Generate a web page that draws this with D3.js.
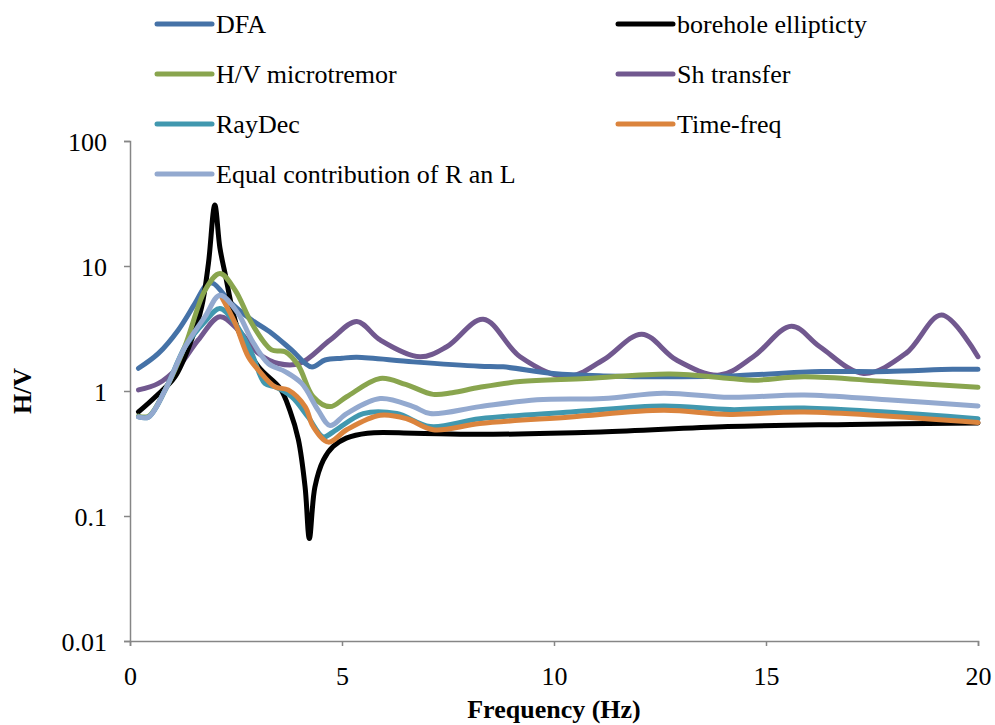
<!DOCTYPE html>
<html>
<head>
<meta charset="utf-8">
<script src="https://cdn.jsdelivr.net/npm/d3@7"></script>
<style>
  body { margin: 0; background: #fff; }
  svg text { font-family: "Liberation Serif", "Times New Roman", serif; fill: #000; }
</style>
</head>
<body>
<div class="grafico"></div>
<script>
// datos (frecuencia en Hz, H/V)
const dfaF = [0.2, 0.67, 1.14, 1.53, 1.81, 1.95, 2.4, 2.87, 3.34, 3.81, 4.28, 4.6, 5.0, 5.35, 6.68, 8.25, 8.8, 9.98, 11.16, 13.0, 14.15, 16.3, 17.85, 19.4, 20]
const dfaV = [1.52, 2.0, 3.08, 5.0, 7.1, 7.3, 5.0, 3.7, 2.9, 2.13, 1.56, 1.77, 1.83, 1.86, 1.71, 1.58, 1.56, 1.38, 1.32, 1.3, 1.32, 1.43, 1.43, 1.49, 1.49]

const boreF = [0.2, 0.6, 1.06, 1.45, 1.69, 1.85, 2.0, 2.12, 2.24, 2.55, 3.03, 3.54, 3.77, 3.97, 4.13, 4.23, 4.36, 4.56, 4.79, 5.1, 5.6, 6.7, 8.2, 11.1, 14.1, 17, 20]
const boreV = [0.68, 0.9, 1.3, 2.56, 4.7, 10.5, 30.7, 14, 8.8, 3.08, 1.56, 1.05, 0.70, 0.41, 0.17, 0.066, 0.17, 0.28, 0.36, 0.42, 0.46, 0.46, 0.45, 0.47, 0.52, 0.54, 0.555]

const hvF = [0.2, 0.44, 0.83, 1.3, 1.77, 2.12, 2.48, 2.87, 3.34, 3.66, 3.97, 4.32, 4.72, 5.11, 5.9, 6.5, 7.15, 7.6, 8.25, 9.2, 10.77, 12.74, 14.15, 14.7, 15.9, 17.85, 20]
const hvV = [0.63, 0.63, 1.02, 2.3, 6.4, 8.7, 6.4, 3.48, 2.13, 2.06, 1.6, 0.9, 0.75, 0.9, 1.26, 1.13, 0.94, 0.97, 1.07, 1.19, 1.26, 1.37, 1.26, 1.22, 1.30, 1.19, 1.07]

const shF = [0.2, 0.67, 1.14, 1.61, 2.12, 2.55, 3.03, 3.5, 4.0, 4.72, 5.35, 5.9, 6.84, 7.47, 8.33, 9.2, 10.3, 11.16, 12.07, 12.89, 13.9, 14.7, 15.6, 16.27, 17.3, 18.3, 19.14, 20]
const shV = [1.02, 1.15, 1.56, 2.56, 3.93, 3.08, 2.0, 1.66, 1.66, 2.56, 3.6, 2.56, 1.88, 2.26, 3.75, 1.88, 1.30, 1.77, 2.85, 1.77, 1.34, 1.88, 3.3, 2.26, 1.38, 2.0, 4.05, 1.88]

const rayF = [0.2, 0.44, 0.83, 1.3, 1.77, 2.12, 2.48, 2.87, 3.18, 3.42, 3.81, 4.2, 4.56, 4.79, 5.5, 6.29, 7.08, 8.25, 10.4, 12.58, 14.15, 15.9, 20]
const rayV = [0.62, 0.62, 1.02, 2.26, 3.6, 4.58, 3.48, 2.0, 1.15, 1.08, 0.90, 0.62, 0.43, 0.47, 0.66, 0.66, 0.52, 0.60, 0.68, 0.76, 0.71, 0.73, 0.60]

const tfF = [2.16, 2.48, 2.79, 3.03, 3.42, 3.73, 4.13, 4.32, 4.68, 5.11, 5.9, 6.53, 7.15, 8.25, 10.4, 12.58, 14.15, 15.9, 20]
const tfV = [5.68, 3.48, 1.88, 1.47, 1.08, 1.02, 0.75, 0.52, 0.39, 0.49, 0.64, 0.60, 0.49, 0.55, 0.62, 0.70, 0.65, 0.68, 0.56]

const eqF = [0.2, 0.44, 0.83, 1.3, 1.77, 2.12, 2.55, 2.87, 3.26, 3.66, 4.05, 4.44, 4.72, 5.11, 5.9, 6.68, 7.08, 8.25, 9.6, 11.16, 12.58, 14.15, 15.9, 17.85, 20]
const eqV = [0.62, 0.62, 1.02, 2.26, 3.93, 5.84, 4.17, 2.56, 1.66, 1.43, 1.15, 0.70, 0.53, 0.66, 0.87, 0.75, 0.66, 0.75, 0.85, 0.87, 0.96, 0.89, 0.93, 0.85, 0.76]

const ticksX = [0, 5, 10, 15, 20]
const ticksY = [0.01, 0.1, 1, 10, 100]

const series = [
    { name: 'DFA', f: dfaF, v: dfaV, color: '#4572a7' },
    { name: 'borehole ellipticty', f: boreF, v: boreV, color: '#000000' },
    { name: 'H/V microtremor', f: hvF, v: hvV, color: '#89a54e' },
    { name: 'Sh transfer', f: shF, v: shV, color: '#71588f' },
    { name: 'RayDec', f: rayF, v: rayV, color: '#4198af' },
    { name: 'Time-freq', f: tfF, v: tfV, color: '#db843d' },
    { name: 'Equal contribution of R an L', f: eqF, v: eqV, color: '#93a9cf' }
]
// orden de dibujo (el ultimo queda encima)
const ordenDibujo = [3, 0, 1, 2, 4, 5, 6]

const ancho = 995,
    alto = 725,
    izq = 130, der = 978, arriba = 141, abajo = 641;

const x = d3.scaleLinear().domain([0, 20]).range([izq, der]);
const y = d3.scaleLog().domain([0.01, 100]).range([abajo, arriba]);

const svg = d3.select('.grafico').append('svg')
    .attr('width', ancho)
    .attr('height', alto);

const gris = '#868686';

// eje Y
const ejeY = svg.append('g')
    .attr('transform', 'translate(' + izq + ',0)')
    .call(d3.axisLeft(y).tickValues(ticksY).tickSize(6).tickPadding(17)
        .tickFormat(d => d >= 1 ? d3.format('d')(d) : String(d)));
ejeY.select('.domain').attr('stroke', gris).attr('stroke-width', 1.5);
ejeY.selectAll('.tick line').attr('stroke', gris).attr('stroke-width', 1.5);
ejeY.selectAll('.tick text').style('font-size', '26px').attr('dy', '0.35em');

// eje X
const ejeX = svg.append('g')
    .attr('transform', 'translate(0,' + abajo + ')')
    .call(d3.axisBottom(x).tickValues(ticksX).tickSize(5).tickPadding(21));
ejeX.select('.domain').attr('stroke', gris).attr('stroke-width', 1.5);
ejeX.selectAll('.tick line').attr('stroke', gris).attr('stroke-width', 1.5);
ejeX.selectAll('.tick text').style('font-size', '26px');

// titulos
svg.append('text')
    .attr('x', 554)
    .attr('y', 718)
    .attr('text-anchor', 'middle')
    .style('font-size', '26px')
    .style('font-weight', 'bold')
    .text('Frequency (Hz)');

svg.append('text')
    .attr('transform', 'translate(31,' + y(1) + ') rotate(-90)')
    .attr('text-anchor', 'middle')
    .style('font-size', '26px')
    .style('font-weight', 'bold')
    .text('H/V');

// lineas
const linea = d3.line()
    .x(d => x(d[0]))
    .y(d => y(d[1]))
    .curve(d3.curveCatmullRom.alpha(0.5));

ordenDibujo.forEach(i => {
    const s = series[i];
    svg.append('path')
        .datum(s.f.map((f, j) => [f, s.v[j]]))
        .attr('fill', 'none')
        .attr('stroke', s.color)
        .attr('stroke-width', 5)
        .attr('stroke-linejoin', 'round')
        .attr('stroke-linecap', 'round')
        .attr('d', linea);
});

// leyenda en dos columnas
const leyenda = svg.append('g');
series.forEach((s, i) => {
    const col = i % 2, fila = Math.floor(i / 2);
    const lx = col === 0 ? 157 : 618;
    const ly = 24 + fila * 50;
    leyenda.append('line')
        .attr('x1', lx).attr('x2', lx + 55)
        .attr('y1', ly).attr('y2', ly)
        .attr('stroke', s.color)
        .attr('stroke-width', 5)
        .attr('stroke-linecap', 'round');
    leyenda.append('text')
        .attr('x', lx + 59)
        .attr('y', ly)
        .attr('dy', '0.35em')
        .style('font-size', '26px')
        .text(s.name);
});
</script>
</body>
</html>
